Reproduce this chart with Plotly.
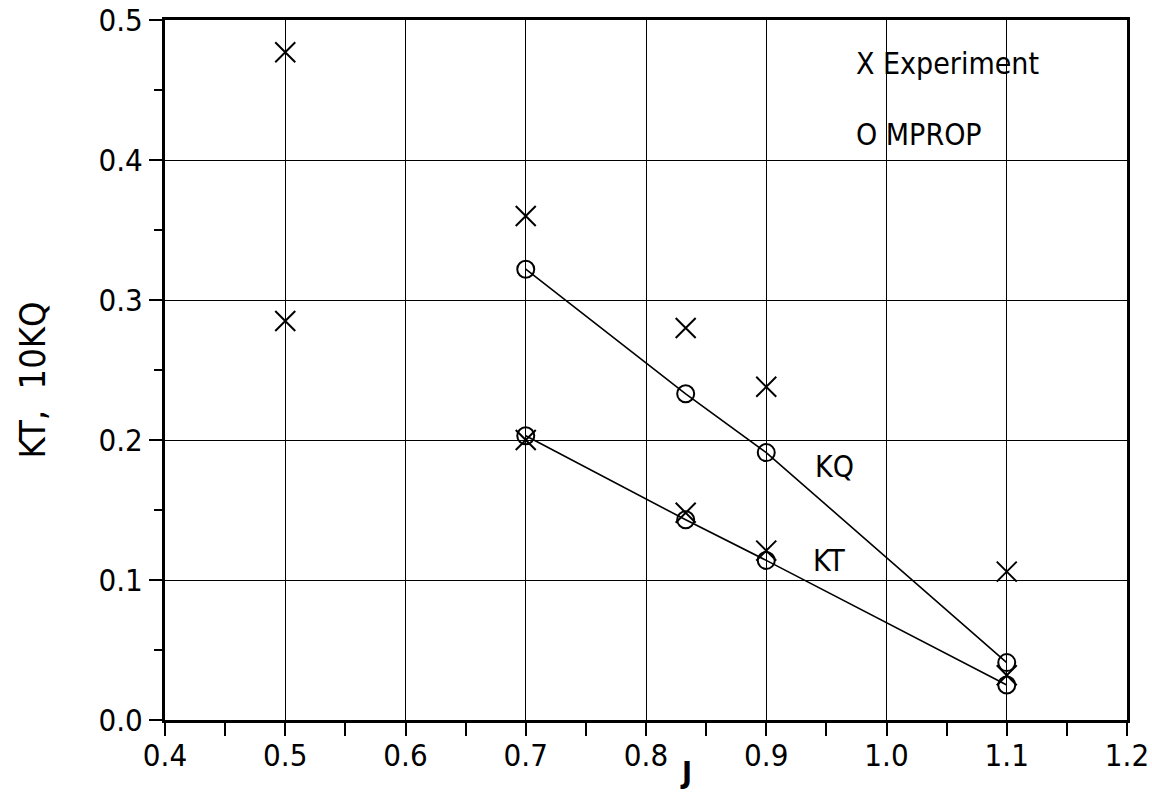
import plotly.graph_objects as go

# Advance coefficient J
j_exp = [0.5, 0.7, 0.833, 0.9, 1.1]
j_calc = [0.7, 0.833, 0.9, 1.1]

# Experimental results
exp_10kq = [0.477, 0.360, 0.280, 0.238, 0.106]
exp_kt = [0.285, 0.200, 0.148, 0.121, 0.032]

# MPROP predictions
mprop_10kq = [0.322, 0.233, 0.191, 0.041]
mprop_kt = [0.203, 0.143, 0.114, 0.025]

x_ticks = [0.4, 0.5, 0.6, 0.7, 0.8, 0.9, 1.0, 1.1, 1.2]
y_ticks = [0.0, 0.1, 0.2, 0.3, 0.4, 0.5]

FONT = "DejaVu Sans Condensed, Liberation Sans Narrow, Arial Narrow, sans-serif"
INK = "black"

fig = go.Figure()

for ys in (mprop_10kq, mprop_kt):
    fig.add_trace(go.Scatter(
        x=j_calc, y=ys, mode="lines+markers",
        line=dict(color=INK, width=1.6),
        marker=dict(symbol="circle-open", size=17, color=INK,
                    line=dict(color=INK, width=2)),
        showlegend=False, hoverinfo="x+y",
    ))

for ys in (exp_10kq, exp_kt):
    fig.add_trace(go.Scatter(
        x=j_exp, y=ys, mode="markers",
        marker=dict(symbol="x-thin-open", size=20, color=INK,
                    line=dict(color=INK, width=2)),
        showlegend=False, hoverinfo="x+y",
    ))

axis_common = dict(
    showgrid=True, gridcolor=INK, gridwidth=1.4,
    showline=True, linecolor=INK, linewidth=3, mirror=True,
    zeroline=False, ticks="outside", tickcolor=INK, tickwidth=1.6,
    tickfont=dict(family=FONT, size=31, color=INK),
    automargin=False,
)

fig.update_xaxes(
    **axis_common, range=[0.4, 1.2], tickvals=x_ticks,
    ticktext=[f"{v:.1f}" for v in x_ticks], ticklen=6,
    minor=dict(dtick=0.05, ticks="outside", ticklen=13, tickcolor=INK,
               tickwidth=1.6, showgrid=False),
)
fig.update_yaxes(
    **axis_common, range=[0.0, 0.5], tickvals=y_ticks,
    ticktext=[f"{v:.1f}" for v in y_ticks], ticklen=13,
    minor=dict(dtick=0.05, ticks="outside", ticklen=8, tickcolor=INK,
               tickwidth=1.6, showgrid=False),
)

# rotated y-axis title
fig.add_annotation(x=0, xref="paper", xshift=-133, y=0.485, yref="paper",
                   text="KT,  10KQ", textangle=-90, showarrow=False,
                   xanchor="center", yanchor="middle",
                   font=dict(family=FONT, size=36, color=INK))

labels = [
    (0.939, 0.181, "KQ"),
    (0.937, 0.114, "KT"),
    (0.973, 0.469, "X Experiment"),
    (0.973, 0.418, "O MPROP"),
]
for x, y, t in labels:
    fig.add_annotation(x=x, y=y, text=t, showarrow=False, xanchor="left",
                       yanchor="middle",
                       font=dict(family=FONT, size=30, color=INK))

fig.add_annotation(x=0.833, y=0, yref="paper", yshift=-52, text="<b>J</b>",
                   showarrow=False, xanchor="center", yanchor="middle",
                   font=dict(family=FONT, size=30, color=INK))

fig.update_layout(
    width=1152, height=797,
    margin=dict(l=165, r=25, t=20, b=77, autoexpand=False),
    paper_bgcolor="white", plot_bgcolor="white",
    font=dict(family=FONT, color=INK),
)

fig.write_html("out.html")
